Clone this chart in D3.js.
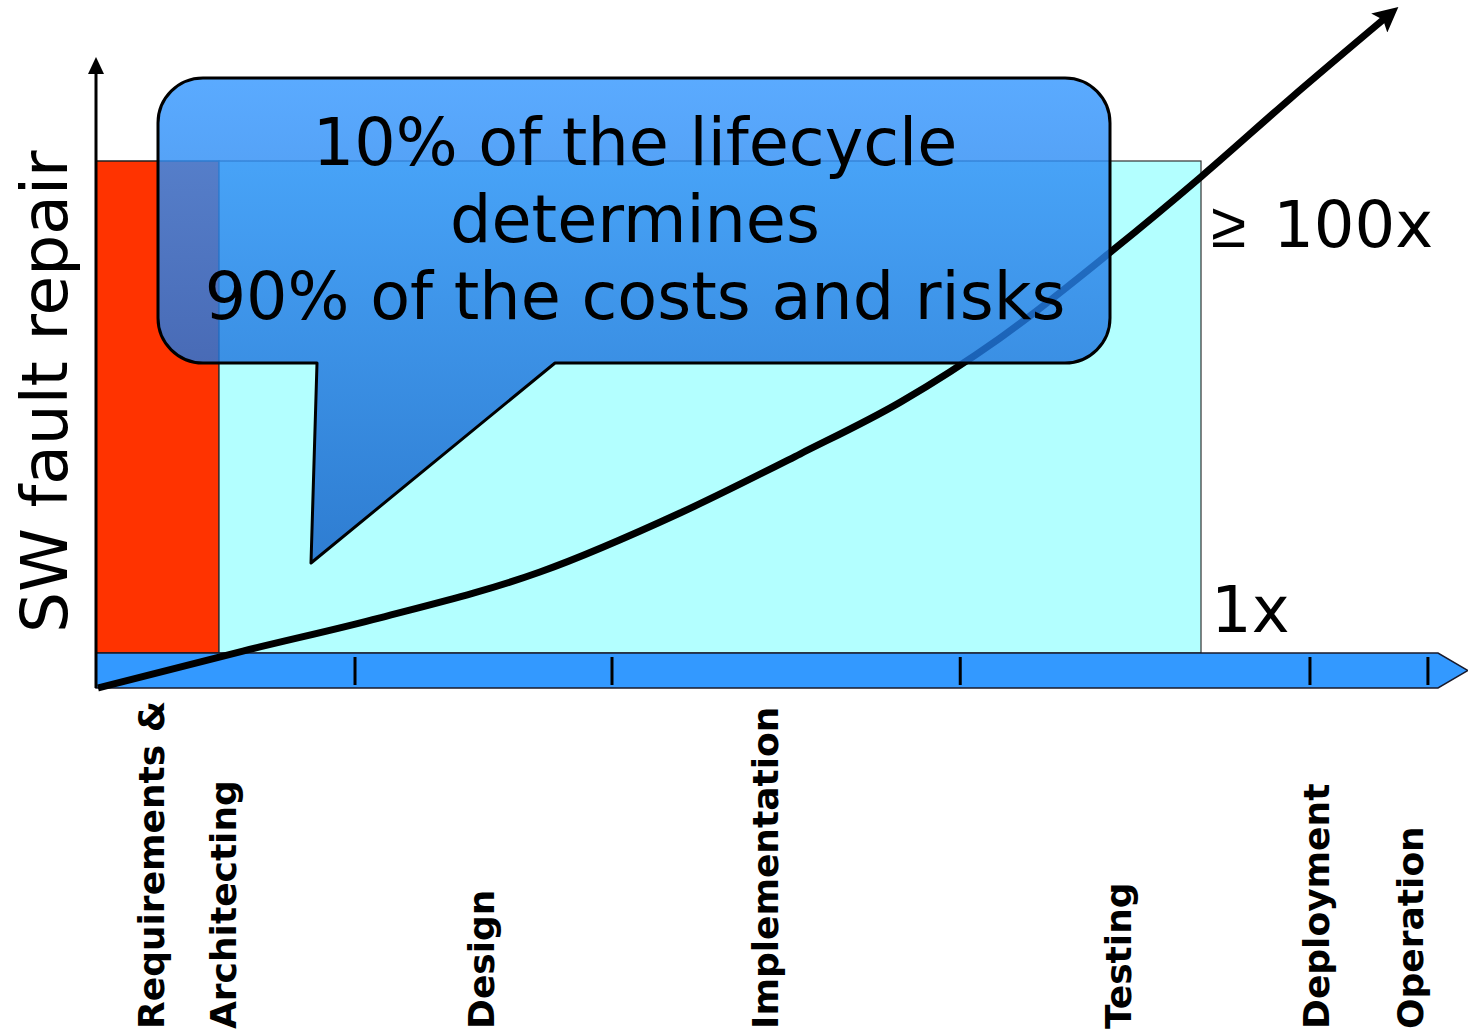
<!DOCTYPE html>
<html>
<head>
<meta charset="utf-8">
<script src="https://cdn.jsdelivr.net/npm/d3@7"></script>
<style>
  html, body { margin: 0; padding: 0; background: #fff; }
  svg { display: block; }
  text { font-family: "DejaVu Sans", Verdana, sans-serif; }
</style>
</head>
<body>
<script>
// ---------------- DATA ----------------
// lifecycle position is a fraction (0..1) of the whole lifecycle axis
const phaseLabels = ["Requirements &", "Architecting", "Design", "Implementation", "Testing", "Deployment", "Operation"];
const phaseLabelPos = [0.0505, 0.1043, 0.2965, 0.508, 0.7712, 0.9188, 0.9888];
const phaseBoundaries = [0.193, 0.3845, 0.644, 0.9046, 0.9925];

// "10% of the lifecycle" (red) vs the rest (cyan)
const earlyPhaseEnd = 0.0917;
const lateSpanEnd = 0.8234;
const rectTopValue = 100;

// relative SW fault-repair cost along the lifecycle
const curveLifecycle = [0.0015, 0.1095, 0.2116, 0.3308, 0.4352, 0.5246, 0.5991, 0.6736, 0.7578, 0.8234, 0.8897, 0.9605];
const curveCost      = [0, 7.0, 13.3, 22.0, 33.2, 44.4, 54.2, 66.4, 83.1, 97.0, 111.8, 127.1];

const costLabels = ["1x", "100x"];
const costLabelPrefix = ["", "\u2265"];
const yTitle = "SW fault repair";
const calloutLines = ["10% of the lifecycle", "determines", "90% of the costs and risks"];

// ---------------- LAYOUT ----------------
const W = 1468, H = 1031;
const x0 = 96, x1 = 1438;
const yBase = 688, yTop = 161;
const barH = 35;

const x = d3.scaleLinear().domain([0, 1]).range([x0, x1]);
const y = d3.scaleLinear().domain([0, 100]).range([yBase, yTop]);

const svg = d3.select("body").append("svg").attr("width", W).attr("height", H);

const defs = svg.append("defs");
defs.append("marker")
  .attr("id", "arrow").attr("viewBox", "0 0 10 10")
  .attr("refX", 3).attr("refY", 5)
  .attr("markerWidth", 26).attr("markerHeight", 25)
  .attr("markerUnits", "userSpaceOnUse")
  .attr("orient", "auto")
  .append("path").attr("d", "M0,0 L10,5 L0,10 L2,5 Z").attr("fill", "#000");

const grad = defs.append("linearGradient").attr("id", "cg")
  .attr("gradientUnits", "userSpaceOnUse")
  .attr("x1", 0).attr("y1", 78).attr("x2", 0).attr("y2", 563);
grad.append("stop").attr("offset", 0).attr("stop-color", "rgb(54,152,255)");
grad.append("stop").attr("offset", 1).attr("stop-color", "rgb(17,96,199)");

// rectangles
const rectBottom = y(0) - barH;
svg.append("rect")
  .attr("x", x(0)).attr("y", y(rectTopValue))
  .attr("width", x(earlyPhaseEnd) - x(0)).attr("height", rectBottom - y(rectTopValue))
  .attr("fill", "#ff3300").attr("stroke", "#222").attr("stroke-width", 1.5);
svg.append("rect")
  .attr("x", x(earlyPhaseEnd)).attr("y", y(rectTopValue))
  .attr("width", x(lateSpanEnd) - x(earlyPhaseEnd)).attr("height", rectBottom - y(rectTopValue))
  .attr("fill", "#b3ffff").attr("stroke", "#333").attr("stroke-width", 1.2);

// lifecycle bar (arrow-shaped)
const barPts = [[x(0), rectBottom], [x(1), rectBottom], [x(1) + 30, rectBottom + barH / 2], [x(1), y(0)], [x(0), y(0)]];
svg.append("path")
  .attr("d", d3.line()(barPts) + "Z")
  .attr("fill", "#3399ff").attr("stroke", "#1a1a2a").attr("stroke-width", 1.5);

svg.append("g").selectAll("line").data(phaseBoundaries).join("line")
  .attr("x1", d => x(d)).attr("x2", d => x(d))
  .attr("y1", rectBottom + 4).attr("y2", y(0) - 3)
  .attr("stroke", "#000").attr("stroke-width", 3);

// y axis with arrow
svg.append("line").attr("x1", x0).attr("x2", x0).attr("y1", y(0)).attr("y2", 70)
  .attr("stroke", "#000").attr("stroke-width", 3);
svg.append("path").attr("d", d3.line()([[x0, 57], [x0 + 8, 74], [x0 - 8, 74]]) + "Z").attr("fill", "#000");

// cost curve
const pts = curveLifecycle.map((f, i) => [x(f), y(curveCost[i])]);
svg.append("path")
  .attr("d", d3.line().curve(d3.curveMonotoneX)(pts))
  .attr("fill", "none").attr("stroke", "#000").attr("stroke-width", 7)
  .attr("stroke-linecap", "butt")
  .attr("marker-end", "url(#arrow)");

// callout
const L = 158, R = 1110, T = 78, B = 363, r = 45;
const p = d3.path();
p.moveTo(L + r, T);
p.lineTo(R - r, T);
p.arcTo(R, T, R, T + r, r);
p.lineTo(R, B - r);
p.arcTo(R, B, R - r, B, r);
p.lineTo(555, B);
p.lineTo(311, 563);
p.lineTo(317, B);
p.lineTo(L + r, B);
p.arcTo(L, B, L, B - r, r);
p.lineTo(L, T + r);
p.arcTo(L, T, L + r, T, r);
p.closePath();
svg.append("path").attr("d", p.toString())
  .attr("fill", "url(#cg)").attr("fill-opacity", 0.82)
  .attr("stroke", "#000").attr("stroke-width", 3).attr("stroke-linejoin", "round");

svg.append("g").selectAll("text").data(calloutLines).join("text")
  .attr("x", 635).attr("y", (d, i) => 165 + i * 77)
  .attr("text-anchor", "middle").attr("font-size", 65.2).attr("fill", "#000")
  .text(d => d);

// cost labels
svg.append("text").attr("x", x(lateSpanEnd) + 10).attr("y", y(0) - 56)
  .attr("font-size", 64).text(costLabels[0]);
const big = svg.append("text").attr("x", x(lateSpanEnd) + 10).attr("y", y(rectTopValue) + 86)
  .attr("font-size", 64);
big.append("tspan").attr("font-family", "'Liberation Sans', Arial, sans-serif").text(costLabelPrefix[1]);
big.append("tspan").attr("dx", 27).text(costLabels[1]);

// y title
svg.append("text").attr("transform", `translate(67,633) rotate(-90)`)
  .attr("font-size", 64.6).text(yTitle);

// phase labels
svg.append("g").selectAll("text").data(phaseLabels).join("text")
  .attr("transform", (d, i) => `translate(${x(phaseLabelPos[i])},1029) rotate(-90)`)
  .attr("font-size", 36).attr("font-weight", "bold")
  .text(d => d);
</script>
</body>
</html>
